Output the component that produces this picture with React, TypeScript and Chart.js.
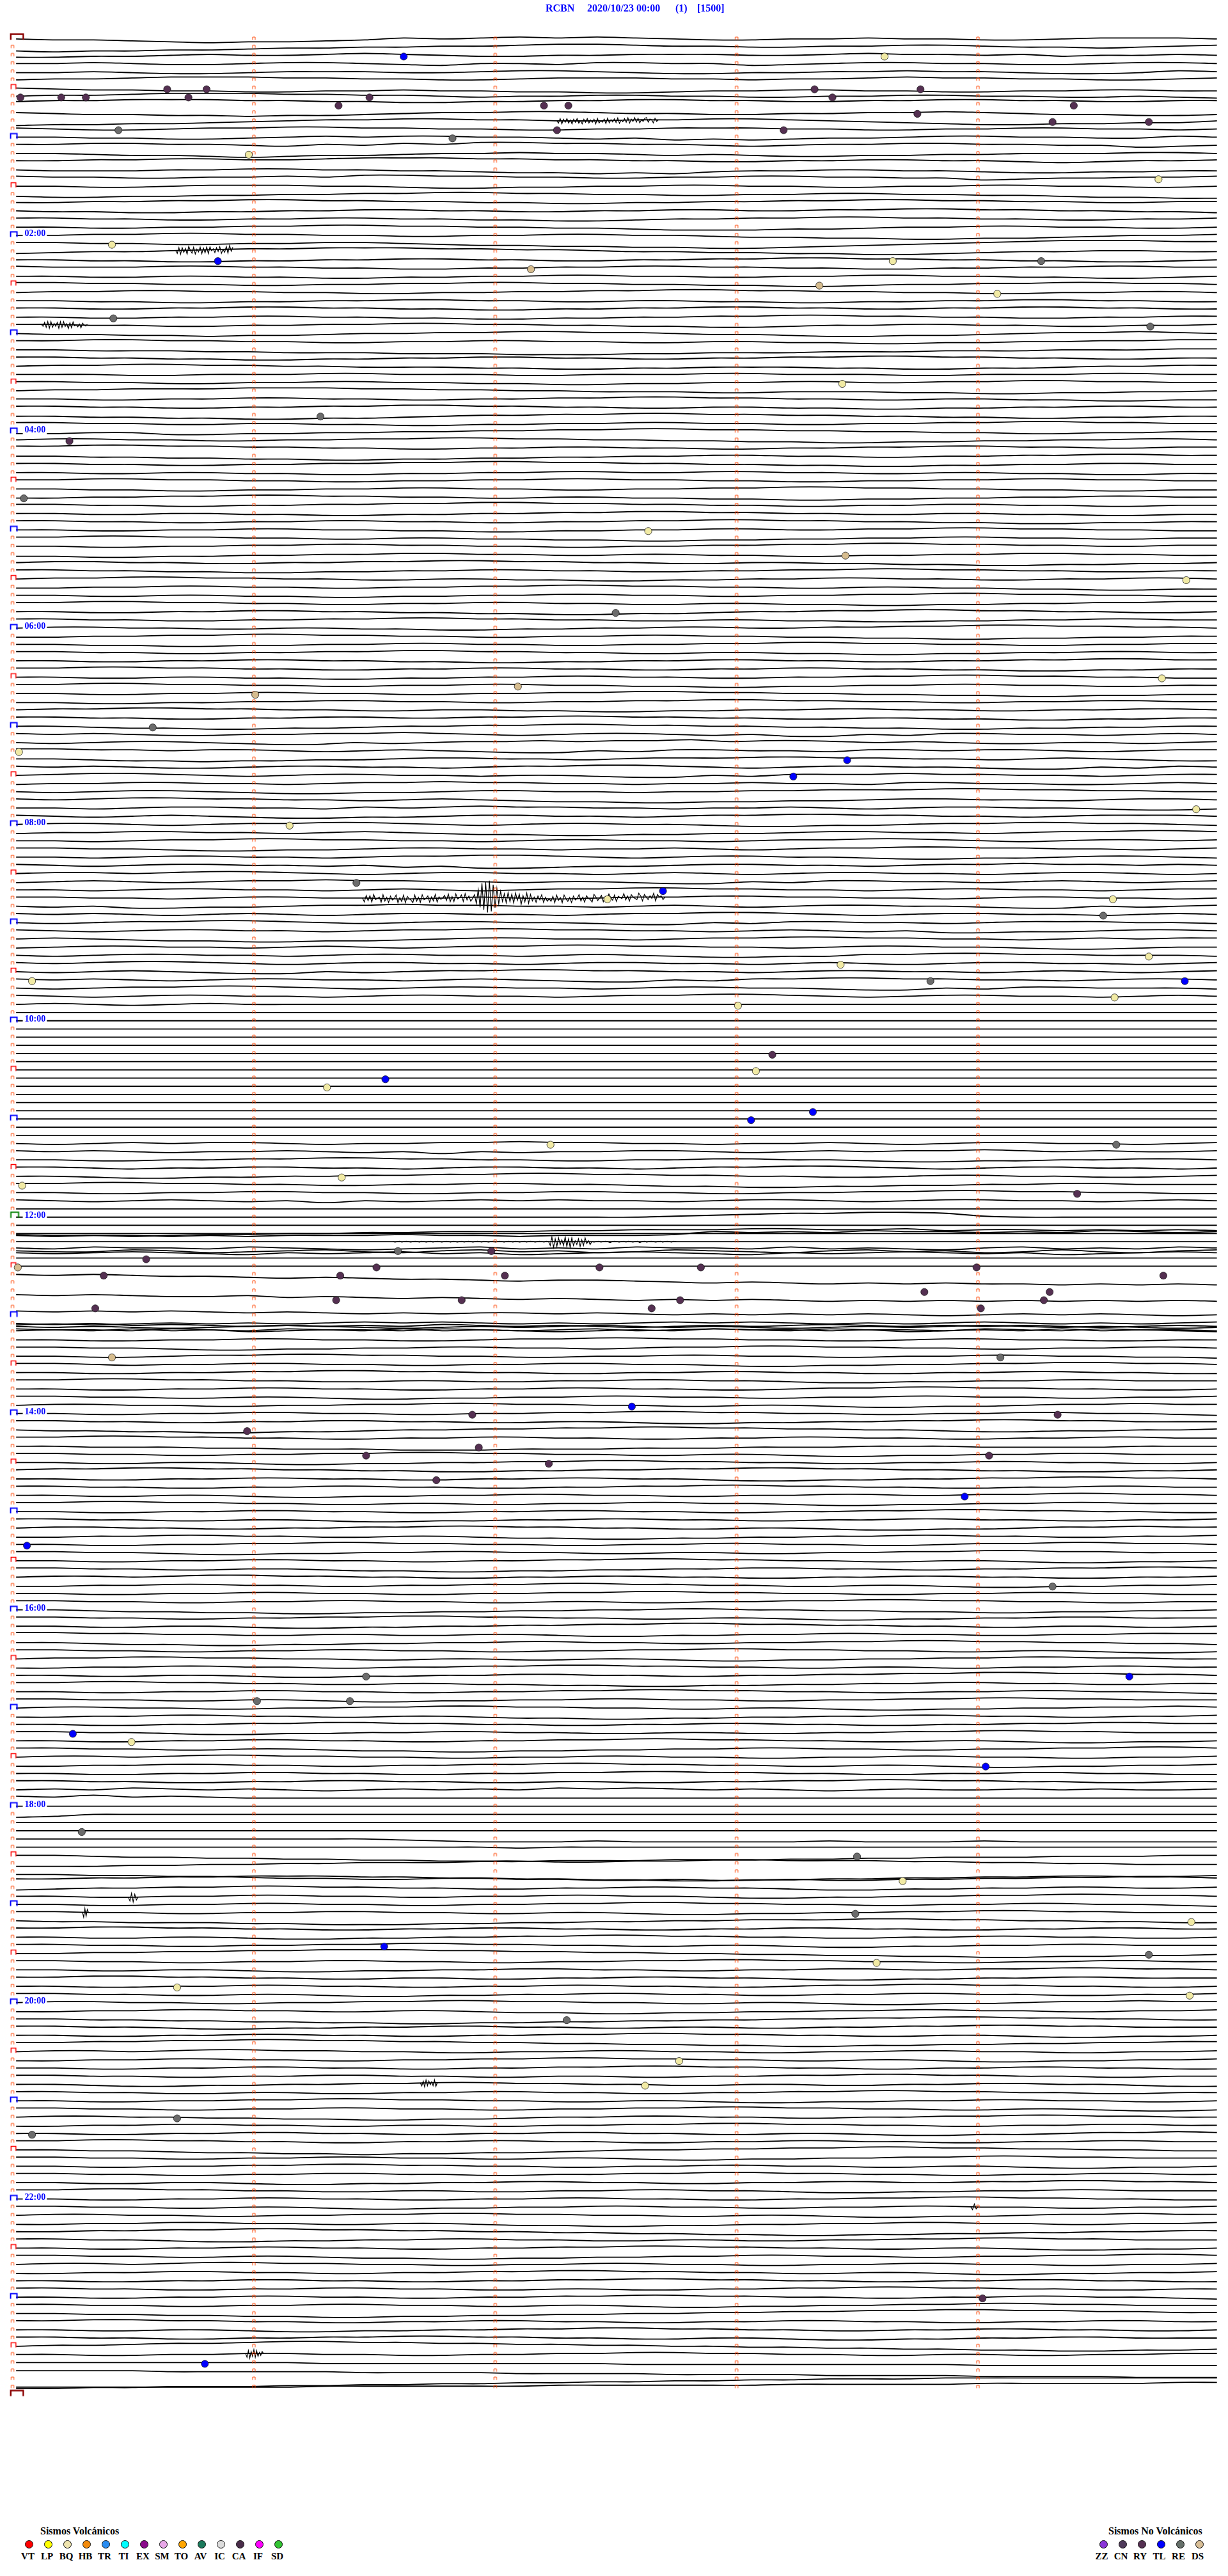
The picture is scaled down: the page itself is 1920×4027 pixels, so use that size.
import React, { useEffect, useRef } from 'react';
import { Chart, registerables } from 'chart.js';

Chart.register(...registerables);

// ---------------- title ----------------
const stationName = 'RCBN';
const startStamp = '2020/10/23 00:00';
const channelTag = '(1)';
const scaleTag = '[1500]';

// ---------------- helicorder structure ----------------
const rowCount = 288; // 24 h x 12 rows of 5 minutes
const minuteMarks = [0, 1, 2, 3, 4];
const hourLabelRows = [24, 48, 72, 96, 120, 144, 168, 192, 216, 240, 264];
const hourLabels = ['02:00', '04:00', '06:00', '08:00', '10:00', '12:00', '14:00', '16:00', '18:00', '20:00', '22:00'];
const traceStartMinute = 0.015;
const traceEndMinute = 4.99;
const traceUnitPx = 1.5; // one letter step ('n' = 0)

// one string per 5-minute row, letters = trace offset samples across the row
const traceRows: string[] = [
  // 00h
  'noopqrqqpomnmlmlmnoonnmnnoonmmmn', 'rsrrqqpoonnmmlkklmmnnmmllmnnonml', 'ppoonmnnmlmnoonnmmmnnmlmmnmonnmn', 'nnmnoonmmnopnnommnnponmmnnoonmmn',
  'oonopponnnoonmmnoppoonnmnnoppomn', 'nmmlkkkllmmnnmlllmmnmmlkllmmnnml', 'noppqqrrqqpqqrrssrqqppqqrrqqppqq', 'nmmlkkkllmmnonnmmnnoonnmmnnoonop',
  'kjjiiijjkkllkkjjiijjkkjjiijjkkjj', 'noppqqrqqponnmmnooppoonnmnoppqqp', 'srrqqponmmllmmnnmmllmnopqrrqqppn', 'mnoonmmllmmnnoonnmmmnnoonnmmnnon',
  // 01h
  'nnoopponmnmmnnopoqpqpoonmmnnoomn', 'mmllmmnomnlmkkllmmnonmmllmmnnpon', 'nnoppqrqpponnmnnopopqqppoonnnmmn', 'mmllkkllkjjjkkllmmnnmmllmmnonmml',
  'nooonnmmnnoopqqrqrpoonnoopqqppoo', 'lmmnnmmlmkkllmmnnmmllmmnnponnmml', 'nnoonmmmnnoppoonnmmnnoonnmmnnoon', 'pqqppoonnmmllmmnnoonnmmnnoopqqrr',
  'nnmmllkkllmmnnoonnmmllkkllmmnnmm', 'nooppoonnmmnnoonnmmnnmmllmmnnoop', 'mmnnoonnmmnnoopponnmmllmmnnoonnm', 'nnoonnmmllmmnnoopqqqpponnmmnnoon',
  // 02h
  'nnmmllmmnnoonnmmnnoppqqrrqqponnm', 'mmnnoonnmmnoppqqrrssrqponmlkkkll', 'ponnmlkkjjjkkllmnnooppqqponnmmnn', 'nnooppoonnmmnnoonnmmllmmnnooppon',
  'lmmmllmmnnoonnmmllmmnnoonnmmllmm', 'nnoonnooppoonnmmnnoonnmmnnooppon', 'llmmnnoonnmmllmmnnoopponnmmllmmn', 'nmmllmmnnoonnmmllkkllmmnnoonnmmn',
  'nnooppoonnmmnnoonnooppoonnmmnnoo', 'mmnnmmllmmnnoonnmmllmmnnmmllmmnn', 'nnoonnmmnnooppoonnmmllmmnnoonnmm', 'mmnnoonnmmllmmnnoopponnmmnnoonnm',
  // 03h
  'nooppqpponnmmllmmnoopqqpponmmlmn', 'mmllmmnnoonnmmnnoonnooppoonnmmll', 'nnoooppqqqrrrsssrrqqqpppooonnnmm', 'mmnnooppoonnmmnnoonnmmllmmnnoonn',
  'nmmllmmnnoooppqqppoooppqqpponnmm', 'nnnoonnnmmnnnoonnnmmnnnoonnnmmnn', 'mmnnoonnmmnnooppoonnmmnnmmllmmnn', 'nmmlllkkkllmmnnoooppoooppqqppoon',
  'nnoonnmmnnoonnmmllmmnnoonnooppoo', 'mmnnoonnmmllmmnnoonnooppoonnmmnn', 'ooppqqrrqqponnmmllmmnnooppqqppoo', 'mmnnoonnooppoonnmmnnoonnmmllmmnn',
  // 04h
  'ppooqqppoonnmmllkkllmmnnooppoonn', 'nmmnnoonnmmllmmnnooppqqppoonnmmn', 'llkkllmmnnoonnmmnnoonnmmllmmnnmm', 'nnooppqqrrqqppoonnmmnnoonnmmllmm',
  'mmnnoonnmmllkkllmmnnooppoonnmmnn', 'nnoonnooppoonnmmnnmmnnoonnooppoo', 'mmllmmnnoonnmmllmmnnoonnmmllmmnn', 'nnooppoonnmmnnoonnmmllmmnnooppoo',
  'oonnmmllmmnnoonnooppqqppoonnmmnn', 'mmnnoonnmmllkkllmmnnoonnmmnnoonn', 'nnoonnooppoonnmmllmmnnoonnooppoo', 'mmnnoonnmmnnoonnmmllmmnnooppoonn',
  // 05h
  'nnoonnmmnnooppoonnmmnnmmllmmnnoo', 'mmllmmnnoonnooppqqppoonnmmnnoonn', 'nnoonnmmllmmnnoonnmmllkkllmmnnmm', 'ppqqppoonnmmnnoonnooppoonnmmnnoo',
  'nmmnnoonnmmllmmnnoonnooppqqppoon', 'mmnnooppoonnmmnnoonnmmllmmnnoonn', 'nmmllmmnnoonnooppoonnmmnnoonnmmn', 'oonnmmnnoonnmmllmmnnoonnooppqqpp',
  'nnoonnooppoonnmmnnoonnmmllmmnnoo', 'mmllmmnnoonnmmnnoonnooppoonnmmll', 'nnoonnmmnnooppqqpponnmmllmmnnoon', 'mmnnoonnmmllmmnnoonnooppoonnmmnn',
  // 06h
  'nmmnnoonnooppoonnmmnnmmllkkllmmn', 'oonnmmllmmnnoonnmmnnooppqqppoonn', 'nnooppoonnmmnnoonnmmllmmnnoonnmm', 'mmnnoonnmmllmmnnoonnooppoonnmmnn',
  'nnoonnmmnnooppoonnmmnnoonnmmllmm', 'mmllmmnnoonnmmnnoonnmmnnooppoonn', 'nnoonnooppoonnmmnnoonnmmllmmnnoo', 'mmllmmnnoonnmmnnooppoonnmmnnoonn',
  'nnoonnmmnnoonnmmllmmnnooppqqppoo', 'ooppoonnmmnnoonnmmllmmnnoonnmmnn', 'nmmllmmnnoonnooppoonnmmnnoonnmmn', 'mmnnoonnmmnnmmllmmnnoonnooppoonn',
  // 07h
  'nnoppqqpponnmmllmmnnooppqqppoonn', 'mnmnoonnmmlmnonmmnonppnommnnonmn', 'nonmmnoppnonmmlmllkmllmnmnoonnonm', 'llmmnmmnonmnoppnommnnommnmmnonmm',
  'nnoppqppoonmmnnonmmmllmmnnonmnopp', 'mnmnoonmmnnonmmllmnonmmnnoppnomn', 'nmllmnonmmnnonnoppnommmlmmnnonmm', 'onnmmnnonmmlmmnnonnmnnommnnoonmn',
  'nonmmnoppoonmmnnonnmmlllkkllmmnn', 'mnmllmmnnonmnoppqqppoonmmnnonmmn', 'nnonmmnnomnmlmmnnonnmnonmmnnoppo', 'mnonmnoppoonmmnnonmmllmmnnonmmmn',
  // 08h
  'nmmnonmmllmnonmmnnoppoonmmllmmno', 'onnmmnnonmnoppqqppoonmmnnonmmllm', 'nnonmmllmmnnonmmnnonmmllmnonmmnm', 'mmnnoppoonmmnnonnmnonmmllmmnnonm',
  'nnonmmnnonmmllmnonmmnnoppoonmmno', 'mnonmmnnonpoqqpoonmmnnonmmlmmnmn', 'nmmnmllmnonmmnnonmnonmmnnonmmnon', 'onmnonmmlmmnnonnoppnommnnonmnonm',
  'nnonmmnnonmnonmmllmmnnonmmnnonmm', 'mmnnonmmnnonmnonmmllmmnnonmmnnon', 'nonppoonmmlmmnnonmnonmmnnoppnonm', 'mnmnonmnonmmnnonmmllmnonmmnnonmn',
  // 09h
  'nonmmllmnonmmnnoppnommnnonmmmnno', 'mnonmmnnonmmllmmnnonmnonppoonmmn', 'nmnoppqqpponmmnnonmmllmmnnonmnmm', 'onmmnnonmnonmmllmmnnonmmnnopponn',
  'nonmmnnonmmnnonmnoppoommllmmnnno', 'mnmllmnonmmnnonmmnnonmnonmmnnonm', 'nonmnoppnonmmllmmnnonmmnnonmnonm', 'mnmnonmmnnonmnoppnommllmmnnonmmn',
  'nonmmllmnonmmnnonmmnnoppnommnnno', 'mnonmmnnonmmnnonmmllmnonmmnnonmn', 'nmnonmnnnnnnnnnnnnnnnnnnnnnnnnnn', 'nnnnnnnnnnnnnnnnnnnnnnnnnnnnnnnn',
  // 10h
  'nnnnnnnnnnnnnnnnnnnnnnnnnnnnnnnn', 'nnnnnnnnnnnnnnnnnnnnnnnnnnnnnnnn', 'nnnnnnnnnnnnnnnnnnnnnnnnnnnnnnnn', 'nnnnnnnnnnnnnnnnnnnnnnnnnnnnnnnn',
  'nnnnnnnnnnnnnnnnnnnnnnnnnnnnnnnn', 'nnnnnnnnnnnnnnnnnnnnnnnnnnnnnnnn', 'nnnnnnnnnnnnnnnnnnnnnnnnnnnnnnnn', 'nnnnnnnnnnnnnnnnnnnnnnnnnnnnnnnn',
  'nnnnnnnnnnnnnnnnnnnnnnnnnnnnnnnn', 'nnnnnnnnnnnnnnnnnnnnnnnnnnnnnnnn', 'nnnnnnnnnnnnnnnnnnnnnnnnnnnnnnnn', 'nnnnnnnnnnnnnnnnnnnnnnnnnnnnnnnn',
  // 11h
  'nnnnnnnnnnnnnnnnnnnnnnnnnnnnnnnn', 'nnnnnnnnnnnnnnnnnnnnnnnnnnnnnnnn', 'nnnnnnnnnnnnnnnnnnnnnnnnnnnnnnnn', 'nonmnmmnonnmmlmmnnonnmnonmmnnonm',
  'mnmnonnmnonpnonnmmnonmnmmlmnmnnm', 'nnoonnmmllmmnnoonnmmnnoppoonnmmn', 'mmnonnmmnnonmmnnonmmllmnonmmnnon', 'nnoppoonnmmllkkllmmnnoonmmnnoonm',
  'mmllmmnnoonnmmnnoppqqppoonnmmnnn', 'nnoonnmmnnoonnmmnnoonnmmllmmnnoo', 'mnonmnonpnonmnmnnonmmnonmmnnonmn', 'nnnnnnnnnnnnnnnnnnnnnnnnnnnnnnnn',
  // 12h
  'nnnnnnnnnnnnnnnnnmlkjjiijmnnnnnn', 'nnnnnnnnnnnnnnnnnnnnnnnnnnnnnnnn', 'nnnnnnnnnnnnnnnnnnnnnnnnnnnnnnnn', 'nnnnnnnnnnnnnnnnnnnnnnnnnnnnnnnn',
  'oppnoqponpqonpoqpnopqonpoqpnpqon', 'nnnnnnnnnnnnnnnnnnnnnnnnnnnnnnnn', 'nnnnnnnnnnnnnnnnnnnnnnnnnnnnnnnn', 'nonoppqrqrsstuttuvwvwxwxwxxyxyxy',
  '', 'rsrsttsutuvuvwvwxwxwxyxyxyxyxyxy', '', 'rsrsrststututtutuvuvuvuvwvuvuvwv',
  // 13h
  'xwxwvwvwvuvuvwvwvuvuvwvwvuvwvwvu', 'nonpopqpqpqopqpqrqpqpopqpqpqrqpq', 'mlmkmlnmlmkmlmnmlmkllmlnmlmkmlmn', 'nnoonnmmnnoonmmllmmnnoonmmnnoonn',
  'mmnnoppoonnmmnnonmmllmmnnoonnmmn', 'nnoonmmllmmnnoonnmmnnoonnmmnnoop', 'mmnonnmmnnoonnmmnnoppoonnmmllmmn', 'nnoonnmmllmmnnoonnmmnnoonnmmnnoo',
  'mmllmmnnoonnoonnmmnnoppoonnmmnnn', 'nnoonnmmnnoonnmmnnoonmmllmmnnoon', 'mmnnoonnoppoonnmmnnoonnmmnnoonnm', 'nmmnnoonnmmllmmnnoonnoppoonmmlmm',
  // 14h
  'nnoonnmmnnoonnmmllmmnnoonnmmnnop', 'mmnnoonnmmnnoonnoppoonnmmllmmnnn', 'nooppqqpponnmmllkkllmmnnoppoonnm', 'mmllmmnnoonnmmnnoonnmmnnoonnmmnn',
  'nnoooppqqqrrrqqqpppooonnnoooonnn', 'mmnnoonnmmllmmnnoonnoppoonnmmnnn', 'nnoonnoppoonnmmllmmnnoonnmmnnoon', 'mllkkllmmnnoonnmmllkkllmmnnoonnm',
  'nnoonnmmnnoonnmmnnoppoonnmmllmmn', 'mmnnoonnmmnnoonnmmllmmnnoonnmmnn', 'nnoonnoppoonnmmnnoonnmmnnmmllmmn', 'mmllmmnnoonnoonnmmnnoppoonnmmnnn',
  // 15h
  'nnoonnmmnnoonnmmnnoonnmmllmmnnoo', 'mmnnoonnoppoonnmmnnoonnmmnnoonnm', 'nmmnnoonnmmllmmnnoonnoppoonmmlmm', 'oonnmmnnoonnoppqqppoonnmmnnoonnm',
  'nnoonnmmllmmnnoonnmmnnoonmmllmmn', 'mmnnoppoonnmmnnoonnoonnmmllmmnnn', 'nnoonnmmnnoonnmmllmmnnoonnoppoon', 'mmnnoonnoppqqppoonnmmnnoonnmmllm',
  'nmmnmllmmnnoonnmmnnoonnmmnnoonnm', 'oonnmmnnoonnmmllmmnnoonnoppoonnm', 'nnoonnmmnnoonnmmllmmnnoonnmmnnoo', 'mmnnoonnmmnnoonnoonnmmllmmnnoonn',
  // 16h
  'nnoppqqrrqqppoonnmmnnooppqqppoon', 'mmnnoonnmmllmmnnoonnoppoonnmmnnn', 'nnoonnoppoonnmmllkkllmmnnoonnoon', 'llmmnnoonnoonnoppoonnmmnnoonnmmm',
  'nnoppqqppoonnmmnnoonnmmllmmnnoop', 'mmnnoonnmmnnoonnmmllmmnnoonnoppo', 'nmmllmmnnoonnoonnoppoonnmmllmmnn', 'oonnmmnnoonnmmllmmnnoonnoonnmmnn',
  'nnoonnoppoonnmmnnoonnmmllkkllmmn', 'mmllmmnnoonnooppqqppoonnmmnnoonn', 'nnoonnmmnnoonnmmllmmnnoonnmmnnop', 'mmnnoonnoppoonnmmnnoonnmmllmmnnn',
  // 17h
  'nmmnnoonnmmllmmnnoonnoppoonnmmlm', 'oonnmmnnoonnoppqqppoonnmmnnoonnm', 'nnoonnmmllmmnnoonnmmnnoonnmmllmm', 'mmnnoppoonnmmnnoonnoonnmmllmmnnn',
  'nnoonnmmnnoonnmmllmmnnoonnoppoon', 'mmnnoonnoppqqppoonnmmnnoonnmmllm', 'nmmnmllmmnnoonnmmnnoonnmmnnoonnm', 'oonnmmnnoonnmmllmmnnoonnoppoonnm',
  'nnoonnmmnnoonnmmllmmnnoonnmmnnoo', 'mmnnoonnmmnnoonnoonnmmllmmnnoonn', 'nmnlmnmnonmnmnlmlmnmnonmnnmnmnnm', 'lmkmlmnnnnnnnnnnnnnnnnnnnnnnnnnn',
  // 18h
  'nnnnnnnnnnnnnnnnnnnnnnnnnnnnnnnn', 'qpnnnnnnnnnnnnnnnnnnnnnnnnnnnnnn', 'nnnnnnnnnnnnnnnnnnnnnnnnnnnnnnnn', 'nnnnnnnnnnnnnnnnnnnnnnnnnnnnnnnn',
  'nnnnnnnnnnopqqqpqqqqqpqqqpqqqqqq', 'nnnnnnnnnnnnnonnnnnnnnnnnnnnnnnn', 'nnoppqqrrsstttuuttssrrqqpppooonn', 'qqqppoonnmmmllkkkjjjkkkllmmnnooo',
  'qqrrsstuuvvuuvvwwvwwvwwvvuuttssr', 'mmllkkjjjkkllmmnnoonnmmllkkjjkkl', 'ponnmmllmmnnoonnmmnnoppoonnmmnnm', 'nnoonnmmnnoonnmmnnoppoonnmmllmmn',
  // 19h
  'nnoonnmmnnoonnmmllmmnnoonnmmnnop', 'mmnnoonnmmnnoonnoppoonnmmllmmnnn', 'noopppqqrrrqqppoonnmmmllmmnnoopp', 'mmllmmnnoonnmmnnoonnmmnnoonnmmnn',
  'nnoonnoppoonnmmllmmnnoonnmmnnoon', 'mmnnoonnmmllmmnnoonnoppoonnmmnnn', 'nnmmllkkjjjkkllmmnnooppqqrrqqppo', 'mmnnoonnmmnnoonnmmllmmnnoonnmmnn',
  'nnoonnoppoonnmmnnoonnmmnnmmllmmn', 'mmllmmnnoonnoonnmmnnoppoonnmmnnn', 'nnoonnmmnnoonnmmnnoonmmllmmnnoon', 'mmnnoonnoppoonnmmnnoonnmmnnoonnm',
  // 20h
  'nmmnnoonnmmllmmnnoonnoppoonmmlmm', 'oonnmmnnoonnoppqqppoonnmmnnoonnm', 'nnooppqqrrssrrqqppoonnmmllmmnnoo', 'mmnnoppoonnmmnnoonnoonnmmllmmnnn',
  'nnoonnmmnnoonnmmllmmnnoonnoppoon', 'mmllkkjjkkllmmnnooppqqppoonnmmll', 'nmmnmllmmnnoonnmmnnoonnmmnnoonnm', 'oonnmmnnoonnmmllmmnnoonnoppoonnm',
  'nnoonnmmnnoonnmmllmmnnoonnmmnnoo', 'mmnnoonnmmnnoonnoonnmmllmmnnoonn', 'nnoppoonnmmllmmnnoonnoonnmmnnopp', 'mmnnoonnoonnmmnnoonnmmllmmnnoonn',
  // 21h
  'nnoonnmmllmmnnoonnoppoonnmmnnoon', 'mmnnoonnmmnnoonnmmllmmnnoonnoppo', 'nmmnnooppqqpponnmmnnoonnmmllmmnn', 'oonnmmnnoonnoonnmmllmmnnoonnmmnn',
  'nnoonnmmnnoonnmmnnoonnoppoonmmlm', 'mmllmmnnoonnmmnnoonnmmnnoonnmmnn', 'nnoopqqrrsrrqqponnmmllkkllmmnnoo', 'mmnnoonnmmnnoonnoppoonnmmllmmnnn',
  'nnoonnmmllmmnnoonnmmnnoonnoppoon', 'mmnnoonnmmnnoonnmmllmmnnoonnmmnn', 'nnoonnoppoonnmmnnoonnmmnnmmllmmn', 'mmllmmnnoonnoonnmmnnoppoonnmmnnn',
  // 22h
  'nnoonnmmnnoonnmmnnoonnmmllmmnnoo', 'mmnnoonnoppoonnmmnnoonnmmnnoonnm', 'nmmnnoonnmmllmmnnoonnoppoonmmlmm', 'oonnmmnnoonnoppqqppoonnmmnnoonnm',
  'nnmmllkkllmmnnooppqqrrqqppoonnmm', 'mmnnoppoonnmmnnoonnoonnmmllmmnnn', 'nnoonnmmnnoonnmmllmmnnoonnoppoon', 'mmnnoonnoppqqppoonnmmnnoonnmmllm',
  'nmmnmllmmnnoonnmmnnoonnmmnnoonnm', 'oonnmmnnoonnmmllmmnnoonnoppoonnm', 'nnoonnmmnnoonnmmllmmnnoonnmmnnoo', 'mmnnoonnmmnnoonnoonnmmllmmnnoonn',
  // 23h
  'nnoonnmmnnoonnmmllmmnnoonnmmnnop', 'mmnnoonnmmnnoonnoppoonnmmllmmnnn', 'nnooppqqrrqqppoonnmmllkkjjkkllmm', 'mmllmmnnoonnmmnnoonnmmnnoonnmmnn',
  'nnoonnoppoonnmmllmmnnoonnmmnnoon', 'mmnnoonnmmllmmnnoonnoppoonnmmnnn', 'nmmlkkjiijjkkllmmnnooppqqrrssrrq', 'nnoonnmmnnoonnmmllmmnnoonnoonnmm',
  'nnnnnnnnoooooooopppppppppqqqqqqq', 'nnnnoooooppppqqqqrrrrssssttttuuu', 'xxwwvvvuuttssrrqqppoonnnmmmmmmmm', 'nnnnnnnnmmmmmmllllllkkkkkjjjjjii',
];

// extra overlapping traces seen in the noon bands
const overlayRows = [146, 146, 148, 148, 157, 158];
const overlayTraces = [
  'oppqpoonnmmlllkkjjjiijjikjjkjkjk',
  'pqppqpqpppoppqpppolmlmkllmlmklml',
  'lmkllmklmnmlkmlmkllmkmlmnlkmlmkl',
  'qrqpqrsqrqprqsrqpqrsqrqpqrqsrqpq',
  'qrqrsrqpqrsrqrqpqrqrsrqrqpqrqrsr',
  'kllmklmkllmklmlkmlklmkllmklmkllm',
];

// high-frequency bursts (row, start minute, end minute, px per letter, samples)
const burstRows = [105, 26, 35, 10, 147, 147, 147, 227, 229, 250, 283, 265];
const burstFrom = [1.45, 0.676, 0.12, 2.255, 1.576, 2.221, 2.4, 0.48, 0.29, 1.69, 0.966, 3.97];
const burstTo = [2.703, 0.913, 0.31, 2.676, 2.221, 2.4, 2.75, 0.52, 0.315, 1.76, 1.04, 4.0];
const burstUnit = [2, 1.5, 1.5, 1.2, 0.7, 1.5, 0.7, 1.5, 1.5, 1.5, 1.5, 1.5];
const burstTraces = [
  'nqlplqkonmqkpmqlonkqmpkqlnoqkpmqkonlqmpkqmonlpkqmqkonlqkpmqo' + 'lshvcxbzaydvgsiqkr' + 'jqkrjpkslqjrkpmqlokqmp' + 'nplqkomqknpmqlonkpmqlnoqkmpnlqmoknplqmnokpmqlnopkmqlnpmokqlnmpn',
  'nqkrkplrjnqkrmpkrlqkrkomqlpkrnqkrjpl',
  'nplqkrkqmplrkqkpmrlqkonpmqlnom',
  'nqkrlpkqmrlpkqnrlpkqmplrkqnplrkqmplqkrnplqkrmpkqlrnplkqmnrlpn',
  'nonmonmnonmnomnonmonmnonmnomnonmonmnonmnomnonmonmnonmnomnonmonmnonmnomn',
  'nritksjqlrisktjrmqkslrjpmqn',
  'nonmonmnpnmnonmomnonmpnmonmnonmonmnomn',
  'nrjskqn',
  'nsjrkn',
  'nqlrkqlpmqkrn',
  'nrkslqjrkqmpln',
  'nqkpn',
];

// catalogued events drawn on the record
const dotRows = [
  2, 2, 7, 7, 7, 6, 7, 6, 8, 7, 8, 8, 6, 7, 6, 8, 11, 12, 11, 11, 9, 10, 10, 14, 17, 25, 27, 28, 27, 27, 30, 31, 34, 35,
  42, 46, 49, 56, 60, 63, 66, 70, 79, 78, 80, 84, 87, 88, 90, 94, 96, 103, 104, 105, 105, 107, 112, 115, 113, 115, 115, 117, 118,
  124, 126, 127, 128, 132, 131, 135, 135, 139, 140, 141,
  148, 148, 149, 150, 150, 150, 151, 151, 151, 154, 154, 155, 150, 150, 151, 153, 153, 154, 154, 155, 155,
  161, 161, 167, 168, 168, 170, 173, 172, 174, 176, 173, 178, 184, 189, 200, 203, 203, 200, 207, 208, 211, 219, 222, 225, 229,
  230, 233, 234, 235, 238, 239, 242, 247, 250, 256, 254, 276, 284,
];
const dotMinutes = [
  1.621, 3.613, 0.033, 0.202, 0.304, 0.641, 0.729, 0.804, 1.351, 1.479, 2.202, 2.303, 3.323, 3.397, 3.762, 4.397, 0.439, 1.823, 2.256, 3.195, 3.749, 4.309, 4.708, 0.979, 4.748, 0.412, 0.851, 2.148, 3.647, 4.262, 3.343, 4.08, 0.418, 4.714,
  3.438, 1.276, 0.236, 0.047, 2.634, 3.451, 4.863, 2.499, 2.094, 4.762, 1.006, 0.581, 0.027, 3.458, 3.235, 4.904, 1.148, 1.425, 2.695, 2.465, 4.559, 4.519, 4.708, 0.081, 3.431, 3.803, 4.857, 4.566, 3.006,
  3.148, 3.08, 1.545, 1.303, 3.06, 3.316, 2.229, 4.573, 1.364, 0.04, 4.411,
  1.597, 1.984, 0.554, 0.022, 1.508, 2.432, 0.378, 1.358, 2.04, 1.341, 1.861, 0.343, 2.852, 3.994, 4.768, 3.778, 4.297, 2.766, 4.273, 2.648, 4.012,
  0.412, 4.093, 2.566, 1.905, 4.33, 0.972, 1.465, 1.932, 2.222, 1.756, 4.046, 3.945, 0.06, 4.309, 1.465, 1.013, 1.398, 4.627, 0.25, 0.493, 4.032, 0.287, 3.499, 3.688, 3.492,
  4.884, 1.54, 4.708, 3.58, 0.682, 4.877, 2.296, 2.762, 2.621, 0.081, 0.682, 4.019, 0.797,
];
const dotTypes = [
  'TL', 'BQ', 'RY', 'RY', 'RY', 'RY', 'RY', 'RY', 'RY', 'RY', 'RY', 'RY', 'RY', 'RY', 'RY', 'RY', 'RE', 'RE', 'RY', 'RY', 'RY', 'RY', 'RY', 'BQ', 'BQ', 'BQ', 'TL', 'DS', 'BQ', 'RE', 'DS', 'BQ', 'RE', 'RE',
  'BQ', 'RE', 'RY', 'RE', 'BQ', 'DS', 'BQ', 'RE', 'DS', 'BQ', 'DS', 'RE', 'BQ', 'TL', 'TL', 'BQ', 'BQ', 'RE', 'TL', 'BQ', 'BQ', 'RE', 'BQ', 'BQ', 'BQ', 'RE', 'TL', 'BQ', 'BQ',
  'RY', 'BQ', 'TL', 'BQ', 'TL', 'TL', 'BQ', 'RE', 'BQ', 'BQ', 'RY',
  'RE', 'RY', 'RY', 'DS', 'RY', 'RY', 'RY', 'RY', 'RY', 'RY', 'RY', 'RY', 'RY', 'RY', 'RY', 'RY', 'RY', 'RY', 'RY', 'RY', 'RY',
  'DS', 'RE', 'TL', 'RY', 'RY', 'RY', 'RY', 'RY', 'RY', 'RY', 'RY', 'TL', 'TL', 'RE', 'RE', 'RE', 'RE', 'TL', 'TL', 'BQ', 'TL', 'RE', 'RE', 'BQ', 'RE',
  'BQ', 'TL', 'RE', 'BQ', 'BQ', 'BQ', 'RE', 'BQ', 'BQ', 'RE', 'RE', 'RY', 'TL',
];

// legends
const volcanicCodes = ['VT', 'LP', 'BQ', 'HB', 'TR', 'TI', 'EX', 'SM', 'TO', 'AV', 'IC', 'CA', 'IF', 'SD'];
const volcanicColors = ['#ff0000', '#ffff00', '#efe4ae', '#f28a0c', '#2a8cf0', '#00ffff', '#8b0a8b', '#e8a8e8', '#ffa500', '#1c7a5c', '#dcdcdc', '#4a2d4a', '#ff00ff', '#33c433'];
const nonVolcanicCodes = ['ZZ', 'CN', 'RY', 'TL', 'RE', 'DS'];
const nonVolcanicColors = ['#8a35d8', '#4f3a5a', '#553052', '#0000ff', '#66706a', '#d8be96'];
const dotFill: Record<string, string> = { BQ: '#f1eaa4', RY: '#553052', RE: '#6c6c6c', TL: '#0000ff', DS: '#d6bc8e' };

// ---------------- geometry of the picture ----------------
const CANVAS_W = 1920;
const CANVAS_H = 3800;
const X_ORIGIN = 13;
const PX_PER_MIN = 380;
const Y_ORIGIN = 54.5;
const PX_PER_ROW = 12.835;
const SERIF = '"Liberation Serif", "Times New Roman", serif';

function codeOffset(ch: string, unitPx: number) {
  return ((ch.charCodeAt(0) - 110) * unitPx) / PX_PER_ROW;
}

function tracePoints(row: number, s: string) {
  const n = s.length;
  const pts: { x: number; y: number }[] = [];
  for (let i = 0; i < n; i++) {
    const x = traceStartMinute + ((traceEndMinute - traceStartMinute) * i) / (n - 1);
    pts.push({ x, y: row + codeOffset(s[i], traceUnitPx) });
  }
  return pts;
}

function traceLevelAt(row: number, minute: number) {
  const s = traceRows[row] || '';
  if (s.length < 2) return 0;
  const t = ((minute - traceStartMinute) / (traceEndMinute - traceStartMinute)) * (s.length - 1);
  const i = Math.max(0, Math.min(s.length - 2, Math.floor(t)));
  const f = Math.max(0, Math.min(1, t - i));
  return codeOffset(s[i], traceUnitPx) * (1 - f) + codeOffset(s[i + 1], traceUnitPx) * f;
}

function makeBracket(w: number, h: number, lw: number, color: string, dx: number, dy: number) {
  const size = 64;
  const c = document.createElement('canvas');
  c.width = size;
  c.height = size;
  const g = c.getContext('2d')!;
  g.strokeStyle = color;
  g.lineWidth = lw;
  g.lineCap = 'butt';
  g.lineJoin = 'miter';
  const cx = size / 2 + dx;
  const cy = size / 2 + dy;
  const l = cx - w / 2 + lw / 2;
  const r = cx + w / 2 - lw / 2;
  const t = cy - h / 2 + lw / 2;
  const b = cy + h / 2;
  g.beginPath();
  g.moveTo(l, b);
  g.lineTo(l, t);
  g.lineTo(r, t);
  g.lineTo(r, b);
  g.stroke();
  return c;
}

export default function App() {
  const canvasRef = useRef<HTMLCanvasElement | null>(null);

  useEffect(() => {
    document.body.style.margin = '0';
    const canvas = canvasRef.current;
    if (!canvas) return;

    const small = makeBracket(5, 5, 1, '#ff4500', 0, -1);
    const half = makeBracket(9, 8, 1.5, '#ff0000', 1.5, -2.2);
    const hour = makeBracket(12, 9, 2, '#0000ff', 2, -2);
    const noon = makeBracket(14, 10, 2, '#008000', 3.5, -3.7);
    const day = makeBracket(22, 10, 2.5, '#8b0000', 7, -3.7);

    const datasets: any[] = [];

    // event dots (top)
    datasets.push({
      type: 'scatter',
      order: 0,
      data: dotRows.map((r, i) => ({ x: dotMinutes[i], y: r + 0.15 })),
      pointRadius: 5.6,
      pointStyle: 'circle',
      pointBackgroundColor: dotTypes.map((t) => dotFill[t]),
      pointBorderColor: 'rgba(20,20,20,0.75)',
      pointBorderWidth: 1,
    });

    // minute marks
    const markData: { x: number; y: number }[] = [];
    const markStyle: HTMLCanvasElement[] = [];
    for (let r = 0; r <= rowCount; r++) {
      for (const m of minuteMarks) {
        if (r === rowCount && m !== 0) continue;
        let st = small;
        if (m === 0) {
          if (r % rowCount === 0) st = day;
          else if (r === 144) st = noon;
          else if (r % 12 === 0) st = hour;
          else if (r % 12 === 6) st = half;
        }
        markData.push({ x: m, y: r });
        markStyle.push(st);
      }
    }
    datasets.push({
      type: 'scatter',
      order: 1,
      data: markData,
      pointStyle: markStyle,
      pointRadius: 1,
      pointHoverRadius: 1,
    });

    // bursts
    burstTraces.forEach((s, b) => {
      const row = burstRows[b];
      const n = s.length;
      const data = [];
      for (let i = 0; i < n; i++) {
        const x = burstFrom[b] + ((burstTo[b] - burstFrom[b]) * i) / (n - 1);
        data.push({ x, y: row + traceLevelAt(row, x) + codeOffset(s[i], burstUnit[b]) });
      }
      datasets.push({
        type: 'line',
        order: 2,
        data,
        borderColor: '#000000',
        borderWidth: 1.2,
        pointRadius: 0,
        tension: 0,
      });
    });

    // traces
    const addTrace = (row: number, s: string) => {
      if (!s || s.length < 2) return;
      datasets.push({
        type: 'line',
        order: 3,
        data: tracePoints(row, s),
        borderColor: '#000000',
        borderWidth: 1.8,
        pointRadius: 0,
        tension: 0.3,
      });
    };
    traceRows.forEach((s, r) => addTrace(r, s));
    overlayTraces.forEach((s, i) => addTrace(overlayRows[i], s));

    const chart = new Chart(canvas, {
      type: 'line',
      data: { datasets },
      options: {
        animation: false,
        responsive: false,
        maintainAspectRatio: false,
        devicePixelRatio: 1,
        events: [],
        layout: { padding: 0 },
        plugins: {
          legend: { display: false },
          tooltip: { enabled: false },
          title: { display: false },
        },
        scales: {
          x: {
            type: 'linear',
            display: false,
            min: -X_ORIGIN / PX_PER_MIN,
            max: (CANVAS_W - X_ORIGIN) / PX_PER_MIN,
          },
          y: {
            type: 'linear',
            reverse: true,
            position: 'left',
            min: -Y_ORIGIN / PX_PER_ROW,
            max: (CANVAS_H - Y_ORIGIN) / PX_PER_ROW,
            z: 1,
            afterFit: (s: any) => {
              s.width = 0;
              s.paddingTop = 0;
              s.paddingBottom = 0;
              s.paddingLeft = 0;
              s.paddingRight = 0;
            },
            afterBuildTicks: (s: any) => {
              s.ticks = hourLabelRows.map((r) => ({ value: r - 0.2 }));
            },
            border: { display: false },
            grid: { display: false, drawTicks: false },
            ticks: {
              z: 1,
              mirror: true,
              padding: 32,
              autoSkip: false,
              color: '#0000ff',
              font: { family: SERIF, size: 14, weight: 'bold' },
              showLabelBackdrop: true,
              backdropColor: '#ffffff',
              backdropPadding: { top: 0, bottom: 0, left: 3, right: 2 },
              callback: (_v: any, i: number) => hourLabels[i] ?? '',
            },
          },
        },
      } as any,
    });

    return () => chart.destroy();
  }, []);

  const titleStyle: React.CSSProperties = {
    position: 'absolute',
    top: 4.6,
    font: `bold 16px ${SERIF}`,
    lineHeight: '16px',
    color: '#0000ff',
    whiteSpace: 'nowrap',
  };
  const legendHead: React.CSSProperties = {
    position: 'absolute',
    top: 3948.6,
    font: `bold 16px ${SERIF}`,
    lineHeight: '16px',
    color: '#000',
    whiteSpace: 'nowrap',
  };
  const dotStyle = (cx: number, color: string): React.CSSProperties => ({
    position: 'absolute',
    left: cx - 6.5,
    top: 3977.5 - 6.5,
    width: 11,
    height: 11,
    borderRadius: '50%',
    background: color,
    border: '1px solid #111',
  });
  const codeStyle = (cx: number): React.CSSProperties => ({
    position: 'absolute',
    left: cx - 20,
    width: 40,
    top: 3989.4,
    textAlign: 'center',
    font: `bold 15px ${SERIF}`,
    lineHeight: '15px',
    color: '#000',
  });

  return (
    <div style={{ position: 'relative', width: 1920, height: 4027, background: '#ffffff', overflow: 'hidden' }}>
      <canvas ref={canvasRef} width={CANVAS_W} height={CANVAS_H} style={{ position: 'absolute', left: 0, top: 0 }} />
      <div style={{ ...titleStyle, left: 853 }}>{stationName}</div>
      <div style={{ ...titleStyle, left: 918 }}>{startStamp}</div>
      <div style={{ ...titleStyle, left: 1056 }}>{channelTag}</div>
      <div style={{ ...titleStyle, left: 1090 }}>{scaleTag}</div>

      <div style={{ ...legendHead, left: 63 }}>Sismos Volcánicos</div>
      {volcanicCodes.map((c, i) => (
        <React.Fragment key={c}>
          <div style={dotStyle(45 + 30 * i, volcanicColors[i])} />
          <div style={codeStyle(43.5 + 30 * i)}>{c}</div>
        </React.Fragment>
      ))}

      <div style={{ ...legendHead, left: 1733 }}>Sismos No Volcánicos</div>
      {nonVolcanicCodes.map((c, i) => (
        <React.Fragment key={c}>
          <div style={dotStyle(1725.3 + 30 * i, nonVolcanicColors[i])} />
          <div style={codeStyle(1722.5 + 30 * i)}>{c}</div>
        </React.Fragment>
      ))}
    </div>
  );
}
